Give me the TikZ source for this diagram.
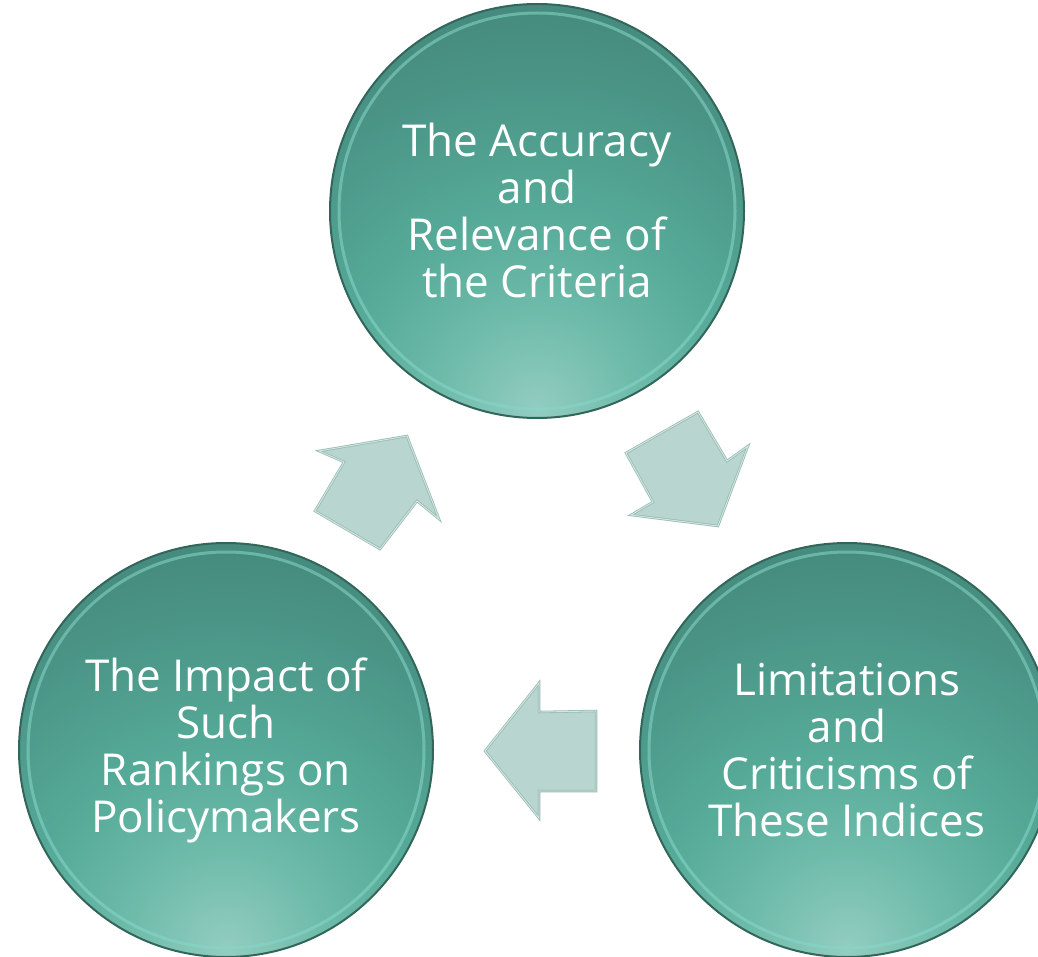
\documentclass[tikz,border=0pt]{standalone}
\usepackage{fontspec}
\setmainfont{Open Sans}

\definecolor{glowa}{HTML}{92CDC0}
\definecolor{glowb}{HTML}{6EBBAA}
\definecolor{glowc}{HTML}{56AA98}
\definecolor{glowd}{HTML}{4A9486}
\definecolor{glowe}{HTML}{3A7366}
\definecolor{rimdark}{HTML}{33665B}
\definecolor{rimlight}{HTML}{86D8C8}
\definecolor{arrowfill}{HTML}{B8D5CF}
\definecolor{arrowedge}{HTML}{98BCB4}
\definecolor{arrowshine}{HTML}{D3E6E1}

\pgfdeclareradialshading{stageglow}{\pgfpoint{0bp}{0bp}}{%
  color(0bp)=(glowa); color(3bp)=(glowb); color(6bp)=(glowc);
  color(10bp)=(glowd); color(18bp)=(glowe); color(50bp)=(glowe)}

\tikzset{
  stage/.style={circle, minimum size=414pt, inner sep=0pt, text=white,
    align=center, font=\fontsize{44}{47}\selectfont,
    draw=rimdark, line width=2pt,
    path picture={\shade[shading=stageglow]
      ([yshift=8pt]path picture bounding box.south) circle (828pt);}},
  rimshine/.style={draw=rimlight, line width=3pt, opacity=0.55},
  cyclearrow/.style={fill=arrowfill, draw=arrowedge, line width=0.8pt,
    double=arrowshine, double distance=0.9pt, line join=miter}
}

\begin{document}
\begin{tikzpicture}[x=1pt,y=-1pt]
	\useasboundingbox (0,0) rectangle (1038,957);

	% the three stages
	\node[stage] (acc) at (537,211) {The Accuracy\\and\\Relevance of\\the Criteria};
	\node[stage] (lim) at (847,750) {Limitations\\and\\Criticisms of\\These Indices};
	\node[stage] (imp) at (226,750) {The Impact of\\Such\\Rankings on\\Policymakers};

	\draw[rimshine] (acc.center) circle (198pt);
	\draw[rimshine] (lim.center) circle (198pt);
	\draw[rimshine] (imp.center) circle (198pt);

	% block arrows of the cycle
	\draw[cyclearrow] (698,412) -- (727,461) -- (748,446) -- (718,526) -- (631,515) -- (653,502) -- (626,453) -- cycle;
	\draw[cyclearrow] (485,751) -- (539,683) -- (539,712) -- (596,711) -- (596,791) -- (539,791) -- (539,818) -- cycle;
	\draw[cyclearrow] (407,436) -- (439,519) -- (417,501) -- (380,549) -- (315,511) -- (344,462) -- (319,451) -- cycle;
\end{tikzpicture}
\end{document}
